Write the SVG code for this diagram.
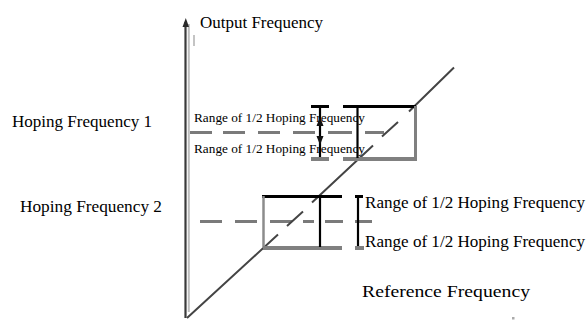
<svg xmlns="http://www.w3.org/2000/svg" width="587" height="320" viewBox="0 0 587 320">
<style>
  text { font-family: "Liberation Serif", "Times New Roman", serif; fill: #000; }
  .big { font-size: 16px; }
  .small { font-size: 12px; }
  .blk { stroke: #000; fill: none; }
  .gry { stroke: #808080; fill: none; }
  .dash { stroke: #7a7a7a; stroke-width: 3; fill: none; }
  .diag { stroke: #444; stroke-width: 2; fill: none; }
</style>
<rect width="587" height="320" fill="#fff"/>

<g id="axis">
  <line x1="188.8" y1="24" x2="188.8" y2="312" stroke="#bdbdbd" stroke-width="2"/>
  <line x1="185.5" y1="22" x2="185.5" y2="318" stroke="#3a3a3a" stroke-width="2.2"/>
  <polygon points="185.8,18 182.5,27 189,27" fill="#2a2a2a"/>
  <line x1="194" y1="35" x2="194" y2="46" stroke="#c4c4c4" stroke-width="2"/>
  <rect x="512" y="317" width="2.5" height="2.5" fill="#aaa"/>
</g>

<g id="labels">
  <text class="big" x="200" y="28" textLength="123" lengthAdjust="spacingAndGlyphs">Output Frequency</text>
  <text class="big" x="12" y="127" textLength="140" lengthAdjust="spacingAndGlyphs">Hoping Frequency 1</text>
  <text class="big" x="20" y="212" textLength="142" lengthAdjust="spacingAndGlyphs">Hoping Frequency 2</text>
  <text class="big" x="362" y="297" textLength="168" lengthAdjust="spacingAndGlyphs" font-size="17">Reference Frequency</text>
</g>

<g id="connectors">
  <!-- dashed hopping frequency levels -->
  <path class="dash" d="M190 132.5H212 M223 132.5H245 M258 132.5H280 M293 132.5H315 M328 132.5H352 M365 132.5H384"/>
  <path class="dash" d="M200 221.5H222 M235 221.5H257 M270 221.5H292 M303 221.5H314 M325 221.5H343 M355 221.5H372"/>
  <!-- reference diagonal -->
  <path class="diag" d="M187 318L278 234.5 M287 226L303 211.5 M312 202.5L373 145.5 M382 136.5L398 122 M409 111.5L454 67.5"/>
</g>

<g id="box1">
  <line class="blk" x1="343" y1="106.5" x2="416" y2="106.5" stroke-width="3"/>
  <line class="gry" x1="415.5" y1="106" x2="415.5" y2="160" stroke-width="3"/>
  <line class="gry" x1="343" y1="159" x2="417" y2="159" stroke-width="4"/>
  <line class="blk" x1="357.5" y1="106" x2="357.5" y2="158" stroke-width="2.2"/>
</g>

<g id="range1">
  <line class="blk" x1="311" y1="106.5" x2="329" y2="106.5" stroke-width="3"/>
  <line class="blk" x1="320" y1="106" x2="320" y2="158" stroke-width="2.2"/>
  <line class="gry" x1="311" y1="159" x2="329" y2="159" stroke-width="4"/>
  <polygon points="320,117 316.5,126 323.5,126" fill="#111"/>
  <polygon points="320,145 316.5,136 323.5,136" fill="#111"/>
  <text class="small" x="194" y="122" textLength="171" lengthAdjust="spacingAndGlyphs">Range of 1/2 Hoping Frequency</text>
  <text class="small" x="194" y="153" textLength="171" lengthAdjust="spacingAndGlyphs">Range of 1/2 Hoping Frequency</text>
</g>

<g id="box2">
  <line class="blk" x1="262" y1="196.5" x2="342" y2="196.5" stroke-width="3"/>
  <line x1="263.5" y1="196" x2="263.5" y2="248" stroke="#8c8c8c" stroke-width="2.5"/>
  <line class="gry" x1="263" y1="248" x2="342" y2="248" stroke-width="4"/>
  <line class="blk" x1="320" y1="196" x2="320" y2="247" stroke-width="2.2"/>
</g>

<g id="range2">
  <line class="blk" x1="355" y1="196.5" x2="363" y2="196.5" stroke-width="3"/>
  <line class="blk" x1="358" y1="196" x2="358" y2="247" stroke-width="2.2"/>
  <line class="gry" x1="355" y1="248" x2="364" y2="248" stroke-width="4"/>
  <text class="big" x="365" y="208" textLength="220" lengthAdjust="spacingAndGlyphs">Range of 1/2 Hoping Frequency</text>
  <text class="big" x="365" y="247" textLength="220" lengthAdjust="spacingAndGlyphs">Range of 1/2 Hoping Frequency</text>
</g>
</svg>
